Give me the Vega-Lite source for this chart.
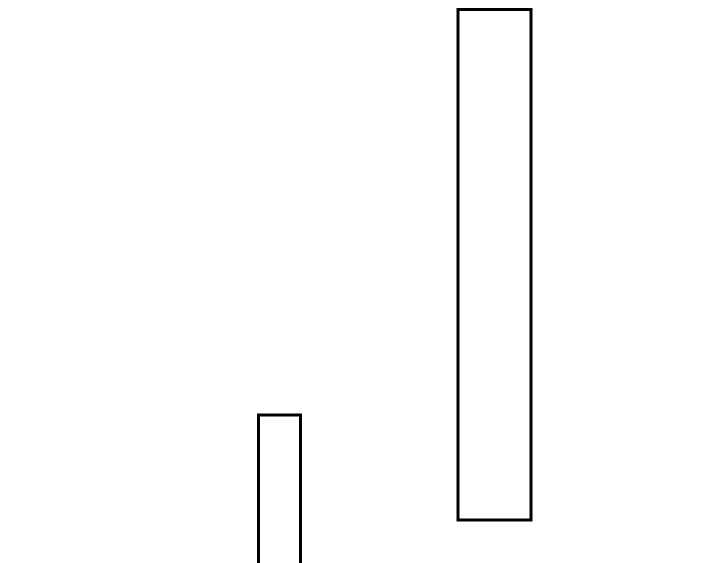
{
  "$schema": "https://vega.github.io/schema/vega-lite/v6.json",
  "width": 720,
  "height": 563,
  "padding": 0,
  "autosize": {"type": "none"},
  "background": "white",
  "config": {"view": {"stroke": null}},
  "data": {
    "values": [
      {"name": "a", "x0": 258.5, "x1": 300.5, "y0": -20, "y1": 148},
      {"name": "b", "x0": 458, "x1": 531, "y0": 43, "y1": 553.5}
    ]
  },
  "mark": {"type": "rect", "fill": "white", "stroke": "black", "strokeWidth": 3},
  "encoding": {
    "x": {"field": "x0", "type": "quantitative", "scale": {"domain": [0, 720], "nice": false, "zero": false}, "axis": null},
    "x2": {"field": "x1"},
    "y": {"field": "y0", "type": "quantitative", "scale": {"domain": [0, 563], "nice": false, "zero": false}, "axis": null},
    "y2": {"field": "y1"}
  }
}
